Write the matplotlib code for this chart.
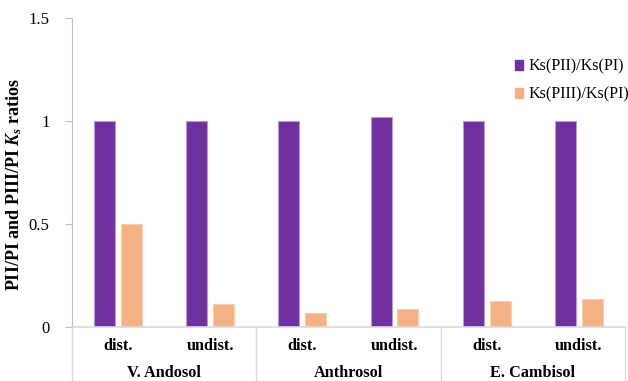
import matplotlib
matplotlib.use("Agg")
import matplotlib.pyplot as plt
from matplotlib.patches import Patch
import numpy as np

plt.rcParams['font.family'] = ['Liberation Serif', 'DejaVu Serif']
plt.rcParams['mathtext.fontset'] = 'custom'
plt.rcParams['mathtext.rm'] = 'Liberation Serif'
plt.rcParams['mathtext.it'] = 'Liberation Serif:italic:bold'
plt.rcParams['mathtext.bf'] = 'Liberation Serif:bold'

soils = ["V. Andosol", "Anthrosol", "E. Cambisol"]
conditions = ["dist.", "undist.", "dist.", "undist.", "dist.", "undist."]
ratio_pii = [1.0, 1.0, 1.0, 1.02, 1.0, 1.0]
ratio_piii = [0.5, 0.11, 0.066, 0.084, 0.124, 0.132]
series_names = ["Ks(PII)/Ks(PI)", "Ks(PIII)/Ks(PI)"]
yticks = [0, 0.5, 1, 1.5]
ytick_labels = ["0", "0.5", "1", "1.5"]

purple = "#7030A0"
orange = "#F4B183"
grid_grey = "#D9D9D9"

fig = plt.figure(figsize=(6.28, 3.81), dpi=100)
ax = fig.add_axes([0.1146, 0.143, 0.8804, 0.809])

x = np.arange(len(conditions)) + 0.5
w = 0.228
off = 0.146
ax.bar(x - off, ratio_pii, width=w, color=purple, edgecolor="#B79AD6", linewidth=0.8)
ax.bar(x + off, ratio_piii, width=w, color=orange, edgecolor="#F8CDB0", linewidth=0.8)

ax.set_xlim(0, len(conditions))
ax.set_ylim(0, 1.5)
ax.set_yticks(yticks)
ax.set_yticklabels(ytick_labels, fontsize=12)
ax.set_xticks([])
ax.tick_params(axis='y', length=5, color="#BFBFBF", pad=11)

for side in ["top", "right"]:
    ax.spines[side].set_visible(False)
ax.spines["left"].set_color("#BFBFBF")
ax.spines["bottom"].set_color(grid_grey)
ax.spines["bottom"].set_linewidth(1.2)

# condition labels and soil group labels below the axis
trans = ax.get_xaxis_transform()
for xi, lab in zip(x, conditions):
    ax.text(xi, -0.063, lab, transform=trans, ha="center", va="center",
            fontsize=11.7, fontweight="bold")
for i, soil in enumerate(soils):
    ax.text(2 * i + 1, -0.152, soil, transform=trans, ha="center", va="center",
            fontsize=11.7, fontweight="bold")
for b in [0, 2, 4, 6]:
    ax.plot([b, b], [0, -0.3], transform=trans, color=grid_grey, lw=1.0,
            clip_on=False)

ax.set_ylabel(r"PII/PI and PIII/PI $K_s$ ratios", fontsize=13, fontweight="bold",
              va="center")
ax.yaxis.set_label_coords(-0.104, 0.459)

handles = [Patch(facecolor=purple, edgecolor=purple),
           Patch(facecolor=orange, edgecolor=orange)]
ax.legend(handles, series_names, loc="upper left", bbox_to_anchor=(0.79, 0.89),
          frameon=False, fontsize=11.6, handlelength=0.5, handleheight=0.5,
          handletextpad=0.3, labelspacing=0.75, borderaxespad=0)

fig.savefig("out.png", dpi=100)
